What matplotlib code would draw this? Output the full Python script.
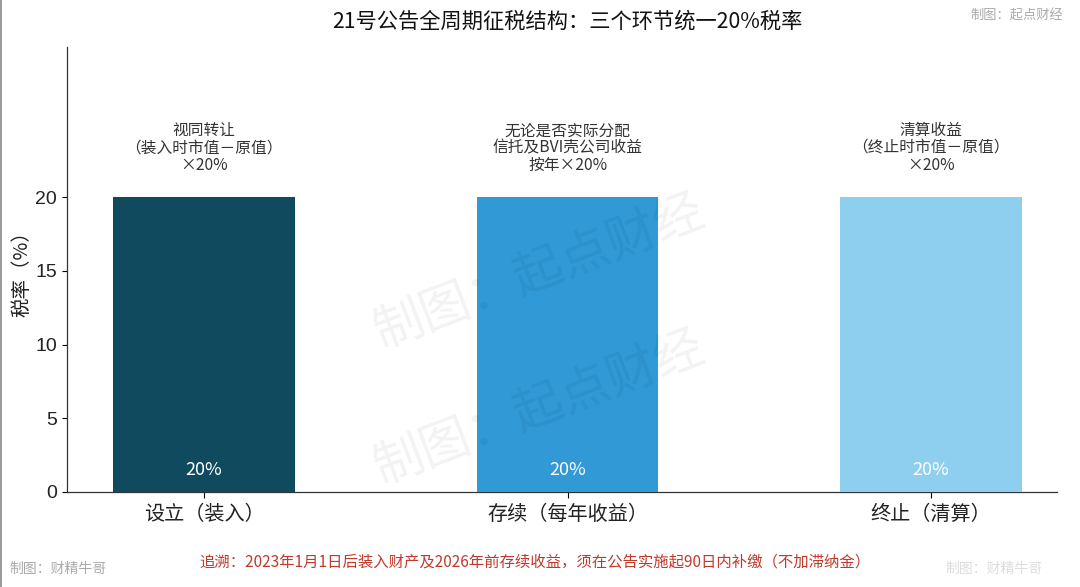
import matplotlib
matplotlib.use('Agg')
import matplotlib.pyplot as plt
from matplotlib.lines import Line2D

plt.rcParams['font.family'] = ['Noto Sans CJK SC', 'DejaVu Sans']
plt.rcParams['axes.unicode_minus'] = False

# 数据
stages = ['设立（装入）', '存续（每年收益）', '终止（清算）']
rates = [20, 20, 20]
notes = ['视同转让\n（装入时市值－原值）\n×20%',
         '无论是否实际分配\n信托及BVI壳公司收益\n按年×20%',
         '清算收益\n（终止时市值－原值）\n×20%']
bar_labels = ['20%', '20%', '20%']
yticks = [0, 5, 10, 15, 20]
colors = ['#0f4a5e', '#3099d6', '#8ecfef']

fig = plt.figure(figsize=(10.8, 5.87), dpi=100, facecolor='white')
ax = fig.add_axes([0.062, 0.162, 0.917, 0.758])

x = list(range(len(stages)))
ax.bar(x, rates, width=0.5, color=colors, zorder=3)

for xi, r, note, lab in zip(x, rates, notes, bar_labels):
    ax.text(xi, r + 1.6, note, ha='center', va='bottom', fontsize=11.3,
            color='#333333', linespacing=1.02)
    ax.text(xi, 0.85, lab, ha='center', va='bottom', fontsize=13,
            color='white', zorder=4)

ax.set_xlim(-0.377, 2.347)
ax.set_ylim(0, 30.2)
ax.set_yticks(yticks)
ax.set_yticklabels([str(v) for v in yticks], fontsize=14,
                   family='Liberation Sans', color='#222222')
ax.set_xticks(x)
ax.set_xticklabels(stages, fontsize=14.5, color='#222222')
ax.tick_params(axis='x', length=4, pad=5)
ax.set_ylabel('税率（%）', fontsize=14, color='#222222', labelpad=2)

for s in ['top', 'right']:
    ax.spines[s].set_visible(False)
for s in ['left', 'bottom']:
    ax.spines[s].set_color('#333333')
    ax.spines[s].set_linewidth(0.9)

# 标题与脚注
fig.text(0.525, 0.963, '21号公告全周期征税结构：三个环节统一20%税率',
         ha='center', va='center', fontsize=15.3, color='#111111')
fig.text(0.984, 0.972, '制图：起点财经', ha='right', va='center',
         fontsize=9.5, color='#aaaaaa')
fig.text(0.495, 0.042,
         '追溯：2023年1月1日后装入财产及2026年前存续收益，须在公告实施起90日内补缴（不加滞纳金）',
         ha='center', va='center', fontsize=11.1, color='#c0392b')
fig.text(0.009, 0.03, '制图：财精牛哥', ha='left', va='center',
         fontsize=10, color='#aaaaaa')
fig.text(0.965, 0.03, '制图：财精牛哥', ha='right', va='center',
         fontsize=10, color='#dddddd')

# 水印
for yc in [0.537, 0.305]:
    fig.text(0.5, yc, '制图：起点财经', ha='center', va='center',
             fontsize=36, color='#000000', alpha=0.05, rotation=21,
             zorder=10)

# 左侧边框线
fig.add_artist(Line2D([0.001, 0.001], [0, 1], transform=fig.transFigure,
                      color='#888888', linewidth=1.2))

fig.savefig('out.png', dpi=100, facecolor='white')
